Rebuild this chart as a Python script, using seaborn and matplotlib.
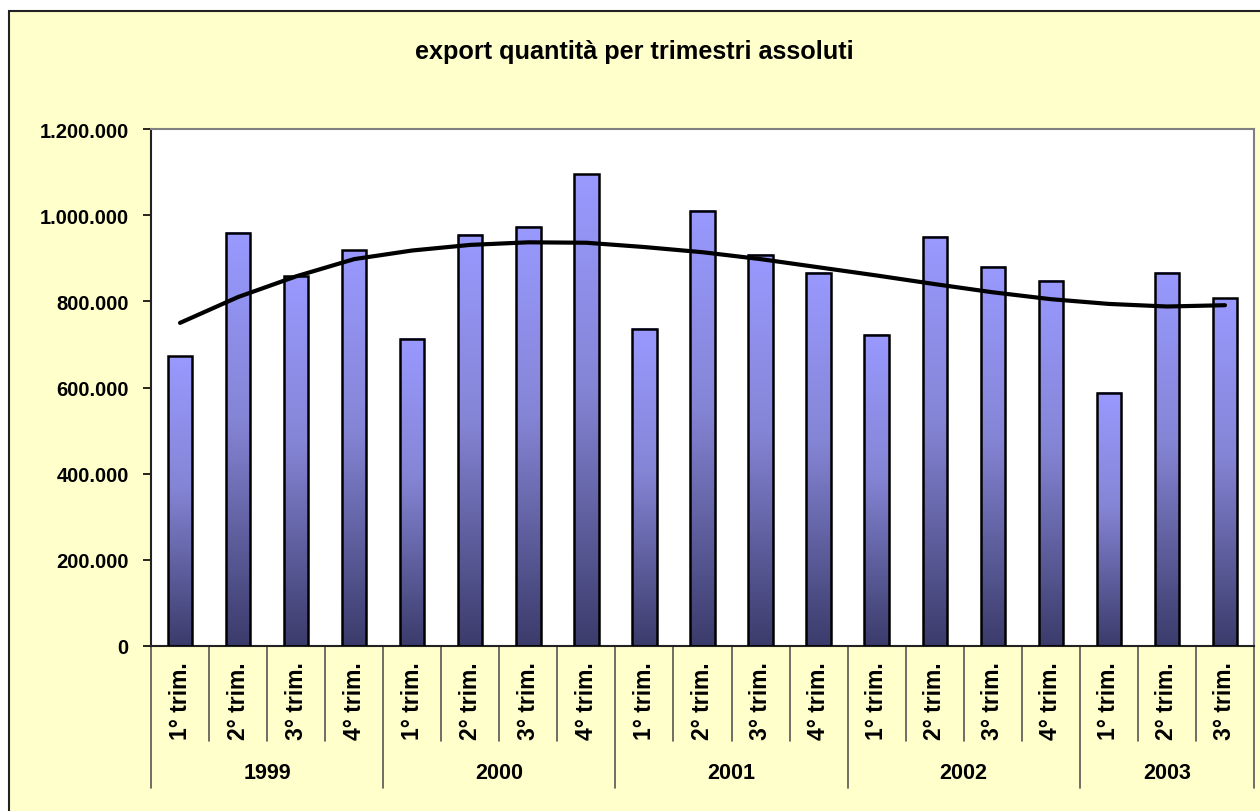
import numpy as np
import pandas as pd
import matplotlib
matplotlib.use('Agg')
import matplotlib.pyplot as plt
import matplotlib.transforms as mtransforms
from matplotlib.colors import LinearSegmentedColormap
from matplotlib.patches import Rectangle
import seaborn as sns

anni = ['1999'] * 4 + ['2000'] * 4 + ['2001'] * 4 + ['2002'] * 4 + ['2003'] * 3
trimestri = ['1° trim.', '2° trim.', '3° trim.', '4° trim.'] * 4 + ['1° trim.', '2° trim.', '3° trim.']
quantita = [672000, 959000, 858000, 918000, 713000, 954000, 973000, 1095000, 736000,
            1010000, 908000, 866000, 723000, 950000, 880000, 848000, 588000, 866000, 807000]
# linea di tendenza
tendenza = [750000, 810000, 858000, 898000, 918000, 931000, 937000, 936000, 926000,
            914000, 898000, 879000, 860000, 840000, 821000, 805000, 794000, 788000, 791000]
tacche_y = [0, 200000, 400000, 600000, 800000, 1000000, 1200000]

df = pd.DataFrame({'anno': anni, 'trimestre': trimestri,
                   'quantita': quantita, 'tendenza': tendenza})
df['periodo'] = df['anno'] + ' ' + df['trimestre']
df['pos'] = np.arange(len(df))

sns.set_style('white')
plt.rcParams['font.family'] = ['Liberation Sans', 'DejaVu Sans']
plt.rcParams['font.weight'] = 'bold'
plt.rcParams['text.color'] = 'black'
plt.rcParams['xtick.color'] = 'black'
plt.rcParams['ytick.color'] = 'black'

W, H = 1260, 812
fig = plt.figure(figsize=(W / 100, H / 100), dpi=100)
fig.patch.set_facecolor('white')
fig.add_artist(Rectangle((9 / W, -0.1), 1.2, (H - 12) / H + 0.1, transform=fig.transFigure,
                         facecolor='#FFFFCC', edgecolor='#222222', linewidth=1.5, zorder=0))

ax = fig.add_axes([151 / W, 1 - 647 / H, 1103 / W, 517 / H])
ax.set_facecolor('white')

sns.barplot(data=df, x='periodo', y='quantita', width=0.42, color='#9999FF',
            edgecolor='black', linewidth=1.8, ax=ax)

# sfumatura delle barre
cmap = LinearSegmentedColormap.from_list('barre', [(0, '#3b3b6b'), (0.55, '#8585d6'), (1, '#9999ff')])
grad = np.linspace(0, 1, 256).reshape(-1, 1)
for p in ax.patches:
    x0, y0 = p.get_x(), p.get_y()
    w, h = p.get_width(), p.get_height()
    ax.imshow(grad, extent=[x0, x0 + w, y0, y0 + h], origin='lower', cmap=cmap,
              aspect='auto', zorder=2, interpolation='bilinear')
    p.set_facecolor('none')
    p.set_zorder(3)

sns.lineplot(x=df['pos'], y=df['tendenza'], color='black', linewidth=3, ax=ax, zorder=5)

ax.set_xlim(-0.5, len(df) - 0.5)
ax.set_ylim(0, 1200000)
ax.set_xlabel('')
ax.set_ylabel('')

ax.set_yticks(tacche_y)
ax.set_yticklabels([f'{v:,.0f}'.replace(',', '.') for v in tacche_y], fontsize=14.5, fontweight='bold')
ax.tick_params(axis='y', left=True, length=6, width=1.2, color='black', pad=10)

ax.set_xticks(df['pos'])
ax.set_xticklabels(df['trimestre'], rotation=90, fontsize=16.5, fontweight='bold')
ax.tick_params(axis='x', length=0, pad=11)

for lato in ['top', 'right']:
    ax.spines[lato].set_color('#808080')
    ax.spines[lato].set_linewidth(1.5)
for lato in ['left', 'bottom']:
    ax.spines[lato].set_color('#222222')
    ax.spines[lato].set_linewidth(1.5)

# asse a due livelli: separatori e anni
trans = mtransforms.blended_transform_factory(ax.transData, ax.transAxes)
cambi = [0] + [i for i in range(1, len(df)) if anni[i] != anni[i - 1]] + [len(df)]
for i in range(len(df) + 1):
    fondo = -0.275 if i in cambi else -0.184
    ax.plot([i - 0.5, i - 0.5], [0, fondo], transform=trans, color='#555555',
            linewidth=1.2, clip_on=False)
for a, b in zip(cambi[:-1], cambi[1:]):
    ax.text((a + b - 1) / 2, -0.244, anni[a], transform=trans, ha='center', va='center',
            fontsize=15.5, fontweight='bold')

fig.text(634 / W, 1 - 52 / H, 'export quantità per trimestri assoluti', ha='center',
         va='center', fontsize=18.2, fontweight='bold')

fig.savefig('out.png', dpi=100, facecolor=fig.get_facecolor())
